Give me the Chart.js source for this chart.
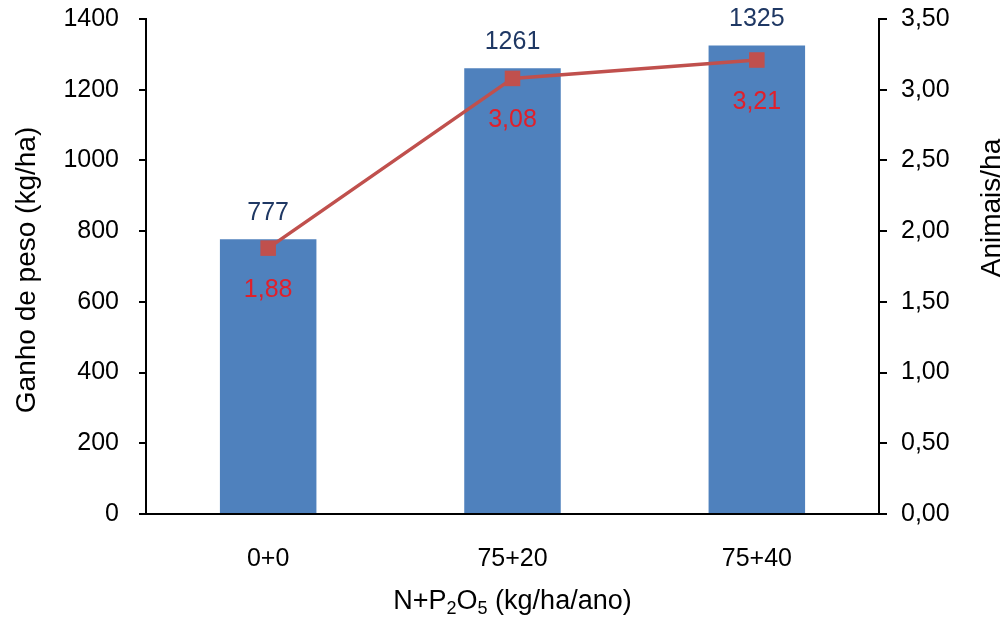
<!DOCTYPE html>
<html>
<head>
<meta charset="utf-8">
<script src="https://cdn.jsdelivr.net/npm/chart.js@4.4.1/dist/chart.umd.min.js"></script>
<style>
html,body{margin:0;padding:0;background:#fff;}
#wrap{width:1007px;height:627px;position:relative;}
</style>
</head>
<body>
<div id="wrap"><canvas id="c" width="1007" height="627"></canvas></div>
<script>
const categories = ['0+0', '75+20', '75+40'];
const ganhoPeso = [777, 1261, 1325];
const animaisHa = [1.88, 3.08, 3.21];
const leftTitle = 'Ganho de peso (kg/ha)';
const rightTitle = 'Animais/ha';
const xTitleParts = [['N+P', false], ['2', true], ['O', false], ['5', true], [' (kg/ha/ano)', false]];

const FONT = '"Liberation Sans", Arial, sans-serif';
const BLUE = '#4F81BD';
const RED = '#C0504D';

const labelPlugin = {
  id: 'customLabels',
  afterDatasetsDraw(chart) {
    const ctx = chart.ctx;
    ctx.save();
    ctx.font = '25px ' + FONT;
    ctx.textAlign = 'center';
    ctx.textBaseline = 'middle';
    const barMeta = chart.getDatasetMeta(0);
    barMeta.data.forEach((el, i) => {
      ctx.fillStyle = '#1F3864';
      ctx.fillText(String(ganhoPeso[i]), el.x, el.y - 26);
    });
    const lineMeta = chart.getDatasetMeta(1);
    lineMeta.data.forEach((el, i) => {
      ctx.fillStyle = '#E0202B';
      ctx.fillText(animaisHa[i].toFixed(2).replace('.', ','), el.x, el.y + 42);
    });
    ctx.restore();
  },
  afterDraw(chart) {
    const ctx = chart.ctx;
    const area = chart.chartArea;
    ctx.save();
    ctx.fillStyle = '#000';
    ctx.textBaseline = 'middle';
    ctx.textAlign = 'center';
    ctx.font = '28px ' + FONT;
    ctx.save();
    ctx.translate(27, 270);
    ctx.rotate(-Math.PI / 2);
    ctx.fillText(leftTitle, 0, 0);
    ctx.restore();
    ctx.save();
    ctx.translate(992, 208);
    ctx.rotate(-Math.PI / 2);
    ctx.fillText(rightTitle, 0, 0);
    ctx.restore();
    const big = '27px ' + FONT, small = '18px ' + FONT;
    let total = 0;
    xTitleParts.forEach(([t, sub]) => { ctx.font = sub ? small : big; total += ctx.measureText(t).width; });
    let x = (area.left + area.right) / 2 - total / 2;
    const y = 600;
    ctx.textAlign = 'left';
    ctx.textBaseline = 'alphabetic';
    xTitleParts.forEach(([t, sub]) => {
      ctx.font = sub ? small : big;
      ctx.fillText(t, x, sub ? y + 14 : y + 9);
      x += ctx.measureText(t).width;
    });
    ctx.restore();
  }
};

new Chart(document.getElementById('c'), {
  type: 'bar',
  data: {
    labels: categories,
    datasets: [
      {
        type: 'bar',
        data: ganhoPeso,
        backgroundColor: BLUE,
        yAxisID: 'y',
        categoryPercentage: 1,
        barPercentage: 0.395,
        order: 2
      },
      {
        type: 'line',
        data: animaisHa,
        borderColor: RED,
        backgroundColor: RED,
        borderWidth: 3.5,
        pointStyle: 'rect',
        pointRadius: 11,
        pointBorderWidth: 0,
        pointBackgroundColor: RED,
        yAxisID: 'y1',
        tension: 0,
        order: 1
      }
    ]
  },
  options: {
    responsive: false,
    animation: false,
    devicePixelRatio: 1,
    layout: { padding: { top: 19, left: 0, right: 0, bottom: 0 } },
    plugins: { legend: { display: false }, tooltip: { enabled: false } },
    scales: {
      x: {
        grid: { display: false, drawTicks: false },
        border: { display: true, color: '#000', width: 2 },
        ticks: { color: '#000', font: { family: FONT, size: 25 }, padding: 30 },
        afterFit(s) { s.height = 627 - 514; s.paddingLeft = 0; s.paddingRight = 0; }
      },
      y: {
        position: 'left',
        min: 0, max: 1400,
        grid: { drawOnChartArea: false, drawTicks: true, tickLength: 7, color: '#000', lineWidth: 2 },
        border: { display: true, color: '#000', width: 2 },
        ticks: { stepSize: 200, color: '#000', font: { family: FONT, size: 25 }, padding: 20,
          callback: v => String(v) },
        afterFit(s) { s.width = 146; s.paddingTop = 0; s.paddingBottom = 0; }
      },
      y1: {
        position: 'right',
        min: 0, max: 3.5,
        grid: { drawOnChartArea: false, drawTicks: true, tickLength: 8, color: '#000', lineWidth: 2 },
        border: { display: true, color: '#000', width: 2 },
        ticks: {
          stepSize: 0.5, color: '#000', font: { family: FONT, size: 25 }, padding: 14,
          callback: v => Number(v).toFixed(2).replace('.', ',')
        },
        afterFit(s) { s.width = 1007 - 879; s.paddingTop = 0; s.paddingBottom = 0; }
      }
    }
  },
  plugins: [labelPlugin]
});
</script>
</body>
</html>
